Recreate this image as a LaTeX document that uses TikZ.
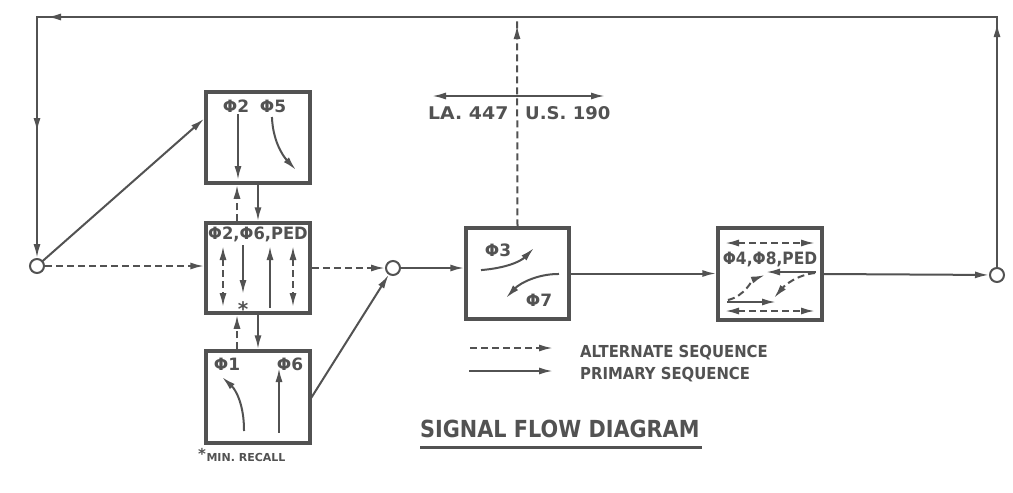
\documentclass[tikz,border=0pt]{standalone}
\usepackage{fontspec}
\usepackage{graphicx}
\setmainfont{DejaVu Sans}
\usetikzlibrary{arrows.meta,decorations.markings,calc}
\definecolor{ink}{RGB}{82,82,82}
\newcommand{\wx}[2]{\scalebox{#1}[1]{#2}}
\begin{document}
\begin{tikzpicture}[x=1pt,y=-1pt,
  ln/.style={draw=ink,line width=2pt,line cap=rect},
  dsh/.style={draw=ink,line width=2pt,dash pattern=on 7pt off 4pt},
  box/.style={draw=ink,line width=3.5pt,inner sep=0pt},
  circ/.style={circle,draw=ink,line width=2pt,minimum size=14pt,inner sep=0pt},
  txt/.style={text=ink,inner sep=0pt,anchor=base},
  bl/.style={txt,font=\fontsize{17}{17}\selectfont\bfseries},
  arrat/.style={postaction={decorate},decoration={markings,mark=at position #1 with {\arrow{>}}}},
  >={Latex[length=14pt,width=7pt]}
]
\useasboundingbox[fill=white] (0,0) rectangle (1013,493);

% boxes
\node[box,minimum width=104pt,minimum height=91pt] (b1) at (258,137.5) {};
\node[box,minimum width=104pt,minimum height=90pt] (b2) at (258,268) {};
\node[box,minimum width=104pt,minimum height=92pt] (b3) at (258,397) {};
\node[box,minimum width=103pt,minimum height=91pt] (b4) at (517.5,273.5) {};
\node[box,minimum width=104pt,minimum height=92pt] (b5) at (770,274) {};

% junction circles
\node[circ] (lc) at (37,266) {};
\node[circ] (cc) at (393,268) {};
\node[circ] (rc) at (997,275) {};

\coordinate (tl) at (37,17);
\coordinate (tr) at (997,17);
\coordinate (tm) at (517,17);
\coordinate (xa) at (237,0);

% feedback loop
\draw[ln,arrat=-6pt] (rc) -- (tr);
\draw[ln,arrat=-10pt] (tr) -- (tl);
\draw[ln,->,arrat=115pt] (tl) -- (lc);

% main connectors
\draw[ln,->] (lc) -- ($(b1.north west)!0.3!(b1.south west)$);
\draw[dsh,->] (lc) -- (lc -| b2.west);
\draw[dsh,->] (b2.east) -- (cc);
\draw[ln,->] (b3.east) -- (cc);
\draw[ln,->] (cc) -- (cc -| b4.west);
\draw[ln,->] (b4.east) -- (b4.east -| b5.west);
\draw[ln,->] (b5.east) -- (rc);
\draw[dsh,arrat=-8pt] (b4.north) -- (tm);

\draw[ln,->] (b1.south) -- (b2.north);
\draw[ln,->] (b2.south) -- (b3.north);
\draw[dsh,->] (b2.north -| xa) -- (b1.south -| xa);
\draw[dsh,->] (b3.north -| xa) -- (b2.south -| xa);

% LA / US arrow
\coordinate (la) at (432,96);
\coordinate (us) at (605,96);
\draw[ln,<->] (la) -- (us);
\node[txt,anchor=base west,font=\fontsize{17.5}{18}\selectfont\bfseries] (tla) at (428,119) {\wx{1.08}{LA. 447}};
\node[txt,anchor=base west,font=\fontsize{17.5}{18}\selectfont\bfseries] (tus) at (525,119) {\wx{1.03}{U.S. 190}};

% box 1 contents
\node[bl] (t1a) at (236,112) {Φ2};
\node[bl] (t1b) at (273,112) {Φ5};
\draw[ln,->] (238,115) -- (238,180);
\draw[ln,->] (272,118) .. controls (273,140) and (282,155) .. (296,170);

% box 2 contents
\node[bl] (t2) at (258,239) {\wx{0.96}{Φ2,Φ6,PED}};
\draw[dsh,<->] (223,246) -- (223,307);
\draw[ln,->] (243,246) -- (243,294);
\node[txt,font=\fontsize{20}{20}\selectfont\bfseries] (star) at (243,316) {*};
\draw[ln,->] (270,307) -- (270,246);
\draw[dsh,<->] (293,246) -- (293,307);

% box 3 contents
\node[bl] (t3a) at (227,370) {Φ1};
\node[bl] (t3b) at (290,370) {Φ6};
\draw[ln,->] (244,430) .. controls (244,405) and (236,390) .. (222,377);
\draw[ln,->] (279,432) -- (279,368);

% box 4 contents
\node[bl] (t4a) at (498,256) {Φ3};
\node[bl] (t4b) at (539,306) {Φ7};
\draw[ln,->] (482,270) .. controls (505,268) and (520,262) .. (534,248);
\draw[ln,->] (558,274) .. controls (538,274) and (520,283) .. (506,298);

% box 5 contents
\node[bl] (t5) at (770,264) {\wx{0.91}{Φ4,Φ8,PED}};
\draw[dsh,<->] (725,243) -- (815,243);
\draw[ln,->] (815,272) -- (766,272);
\draw[dsh,->] (728,300) .. controls (745,296) and (752,280) .. (765,275);
\draw[dsh,->] (815,273) .. controls (797,275) and (785,285) .. (774,298);
\draw[ln,->] (728,302) -- (776,302);
\draw[dsh,<->] (725,311) -- (815,311);

% legend
\coordinate (l1a) at (470,348); \coordinate (l1b) at (553,348);
\coordinate (l2a) at (470,371); \coordinate (l2b) at (553,371);
\draw[dsh,->] (l1a) -- (l1b);
\draw[ln,->] (l2a) -- (l2b);
\node[txt,anchor=base west,font=\fontsize{16.5}{17}\selectfont\bfseries] (alt) at (580,357) {\wx{0.9}{ALTERNATE SEQUENCE}};
\node[txt,anchor=base west,font=\fontsize{16.5}{17}\selectfont\bfseries] (pri) at (580,379) {\wx{0.9}{PRIMARY SEQUENCE}};

% title
\node[txt,anchor=base west,font=\fontsize{23.5}{24}\selectfont\bfseries] (title) at (420,437) {\wx{0.885}{SIGNAL FLOW DIAGRAM}};
\draw[draw=ink,line width=3pt] ($(title.base west)+(0,10)$) -- ($(title.base east)+(2,10)$);

% footnote
\node[txt,anchor=base west,font=\fontsize{11}{12}\selectfont\bfseries] (recall) at (198,461) {\raisebox{2pt}{\fontsize{15}{15}\selectfont *}\hspace{0.5pt}MIN. RECALL};
\end{tikzpicture}
\end{document}
